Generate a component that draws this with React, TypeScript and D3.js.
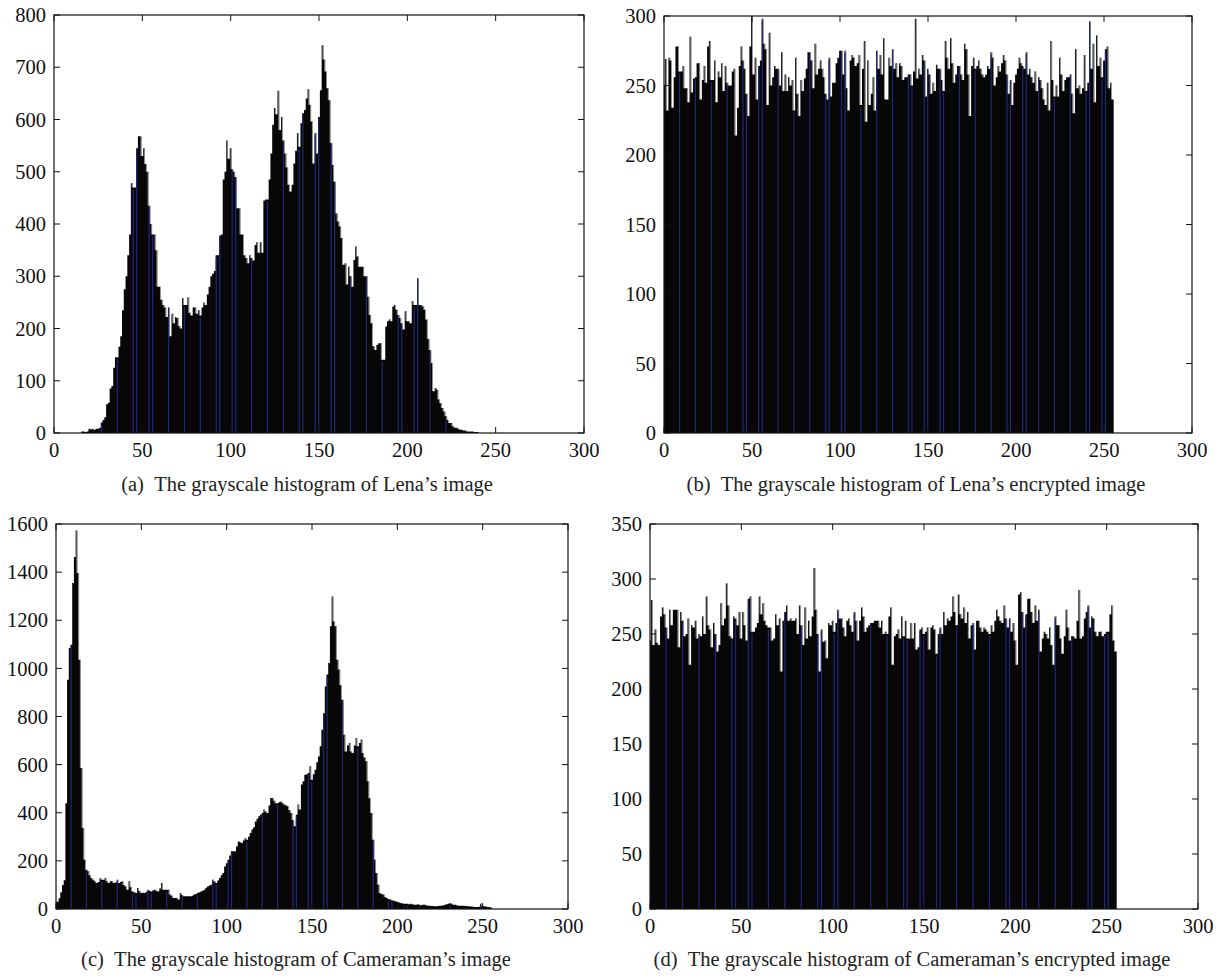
import React from 'react';
import * as d3 from 'd3';

// grey levels 0..255 (one bar each)
const LEVELS = d3.range(256);
const X_TICKS = [0, 50, 100, 150, 200, 250, 300];

// (a) Lena, plain image
const lenaCounts = [
  0, 0, 0, 0, 0, 0, 0, 0, 0, 0, 0, 0, 0, 0, 0, 0,
  3, 3, 2, 3, 8, 7, 8, 6, 8, 8, 10, 20, 25, 30, 55, 58,
  85, 90, 125, 145, 145, 165, 185, 235, 275, 300, 340, 380, 478, 470, 470, 545,
  568, 568, 530, 545, 515, 500, 435, 400, 380, 380, 350, 280, 280, 255, 245, 240,
  222, 240, 185, 228, 210, 222, 220, 205, 200, 258, 245, 245, 260, 230, 225, 240,
  240, 228, 235, 225, 240, 250, 245, 265, 280, 300, 305, 310, 340, 340, 378, 380,
  485, 500, 560, 525, 545, 505, 500, 490, 430, 430, 380, 380, 340, 335, 325, 340,
  335, 330, 360, 365, 345, 365, 345, 445, 447, 447, 485, 535, 590, 622, 610, 655,
  580, 605, 560, 535, 508, 475, 462, 475, 516, 540, 574, 548, 593, 612, 618, 640,
  658, 628, 596, 516, 574, 535, 605, 656, 742, 715, 692, 660, 637, 555, 513, 481,
  420, 405, 395, 373, 322, 325, 284, 318, 300, 280, 331, 357, 338, 318, 318, 318,
  300, 300, 261, 226, 210, 166, 159, 169, 172, 172, 140, 140, 204, 214, 217, 214,
  242, 245, 236, 226, 220, 210, 198, 233, 214, 214, 210, 252, 245, 245, 296, 245,
  245, 242, 236, 217, 180, 159, 134, 80, 86, 83, 64, 57, 48, 41, 32, 25,
  19, 19, 13, 10, 10, 8, 6, 6, 5, 5, 3, 3, 3, 3, 2, 2,
  2, 0, 0, 0, 0, 0, 0, 0, 0, 0, 0, 0, 0, 0, 0, 0,
];

// (b) Lena, encrypted image
const lenaEncCounts = [
  250, 269, 232, 270, 268, 234, 256, 278, 278, 260, 260, 264, 248, 248, 238, 285,
  245, 255, 256, 266, 266, 240, 254, 264, 252, 278, 282, 254, 254, 268, 238, 260,
  256, 266, 246, 264, 252, 250, 250, 260, 262, 214, 234, 264, 278, 268, 262, 244,
  228, 278, 300, 258, 270, 240, 264, 268, 298, 280, 276, 236, 288, 250, 256, 264,
  262, 262, 250, 274, 246, 258, 246, 256, 250, 254, 232, 270, 244, 228, 254, 246,
  255, 262, 274, 274, 268, 248, 280, 258, 262, 268, 262, 256, 244, 240, 270, 242,
  252, 252, 266, 270, 275, 275, 258, 275, 248, 232, 268, 272, 270, 264, 266, 272,
  236, 262, 282, 224, 268, 236, 244, 256, 232, 275, 262, 272, 258, 284, 240, 240,
  270, 264, 276, 262, 266, 256, 266, 264, 254, 256, 256, 258, 258, 250, 260, 298,
  255, 262, 258, 272, 268, 242, 262, 258, 244, 252, 246, 265, 262, 262, 254, 246,
  282, 270, 262, 284, 266, 252, 258, 264, 264, 258, 254, 280, 276, 258, 228, 264,
  270, 262, 264, 268, 262, 258, 256, 258, 264, 262, 274, 270, 250, 256, 264, 260,
  266, 272, 268, 258, 244, 254, 236, 252, 258, 262, 270, 266, 264, 262, 274, 258,
  262, 256, 252, 260, 246, 256, 254, 248, 240, 236, 252, 232, 282, 254, 242, 250,
  242, 270, 258, 246, 254, 256, 256, 258, 244, 230, 276, 248, 250, 244, 248, 272,
  246, 252, 296, 262, 280, 238, 286, 264, 270, 256, 268, 276, 278, 248, 252, 240,
];

// (c) Cameraman, plain image
const cameraCounts = [
  30, 30, 45, 70, 100, 120, 440, 953, 1085, 1098, 1355, 1463, 1573, 1396, 1036, 586,
  337, 205, 163, 157, 140, 129, 122, 115, 108, 112, 129, 122, 122, 129, 115, 108,
  115, 115, 108, 110, 122, 108, 112, 115, 100, 94, 80, 115, 90, 73, 70, 66,
  87, 75, 66, 68, 66, 72, 80, 76, 73, 78, 80, 76, 73, 85, 108, 80,
  80, 80, 80, 60, 55, 46, 46, 46, 40, 66, 58, 53, 53, 53, 53, 53,
  55, 60, 62, 66, 70, 73, 76, 80, 88, 94, 98, 101, 122, 115, 108, 118,
  129, 140, 150, 177, 190, 205, 222, 240, 240, 240, 260, 281, 278, 274, 285, 295,
  288, 300, 316, 330, 340, 364, 375, 385, 392, 399, 413, 405, 399, 430, 461, 461,
  450, 440, 440, 445, 447, 440, 434, 430, 427, 410, 399, 370, 344, 392, 434, 413,
  517, 531, 558, 560, 565, 593, 537, 560, 579, 610, 634, 676, 745, 814, 925, 975,
  1022, 1175, 1299, 1195, 1175, 1036, 995, 930, 870, 724, 655, 680, 690, 655, 648, 680,
  711, 676, 690, 704, 648, 630, 614, 531, 460, 399, 288, 205, 150, 101, 66, 62,
  60, 50, 46, 42, 40, 36, 34, 32, 30, 28, 25, 24, 22, 22, 22, 20,
  22, 20, 18, 18, 20, 18, 16, 18, 18, 16, 14, 14, 12, 12, 11, 11,
  12, 13, 14, 16, 18, 20, 22, 25, 22, 18, 18, 16, 14, 14, 14, 14,
  12, 12, 11, 10, 10, 8, 8, 8, 9, 22, 12, 11, 10, 8, 8, 6,
];

// (d) Cameraman, encrypted image
const cameraEncCounts = [
  244, 281, 240, 254, 242, 240, 266, 274, 268, 256, 246, 272, 258, 272, 272, 272,
  238, 270, 262, 248, 250, 264, 222, 258, 256, 262, 246, 250, 248, 266, 250, 284,
  258, 254, 238, 260, 250, 234, 240, 278, 258, 264, 296, 276, 248, 246, 266, 264,
  258, 270, 246, 270, 258, 244, 282, 284, 252, 252, 256, 260, 284, 268, 278, 262,
  258, 256, 256, 244, 246, 268, 258, 264, 216, 262, 270, 276, 262, 264, 262, 262,
  264, 250, 276, 258, 240, 274, 246, 262, 248, 266, 310, 272, 250, 216, 254, 243,
  244, 228, 260, 258, 262, 252, 260, 272, 264, 264, 256, 248, 262, 264, 258, 252,
  270, 262, 244, 262, 274, 266, 252, 256, 258, 260, 260, 262, 262, 262, 256, 262,
  250, 252, 250, 266, 274, 222, 248, 250, 254, 246, 266, 248, 262, 246, 246, 260,
  246, 260, 236, 238, 254, 256, 250, 252, 256, 236, 256, 258, 254, 232, 250, 256,
  250, 270, 258, 264, 262, 266, 284, 270, 258, 286, 268, 264, 274, 260, 270, 246,
  258, 260, 236, 262, 262, 256, 252, 256, 254, 252, 250, 258, 252, 262, 272, 266,
  262, 260, 276, 264, 256, 264, 252, 260, 244, 222, 286, 288, 270, 256, 268, 282,
  282, 270, 260, 276, 262, 272, 234, 246, 252, 250, 246, 256, 240, 222, 266, 258,
  258, 246, 232, 248, 272, 256, 244, 248, 248, 246, 262, 290, 246, 248, 264, 270,
  276, 256, 266, 264, 252, 248, 252, 252, 248, 250, 252, 252, 268, 276, 244, 234,
];

const lenaYTicks = [0, 100, 200, 300, 400, 500, 600, 700, 800];
const lenaEncYTicks = [0, 50, 100, 150, 200, 250, 300];
const cameraYTicks = [0, 200, 400, 600, 800, 1000, 1200, 1400, 1600];
const cameraEncYTicks = [0, 50, 100, 150, 200, 250, 300, 350];

const captions = [
  '(a)\u2002The grayscale histogram of Lena\u2019s image',
  '(b)\u2002The grayscale histogram of Lena\u2019s encrypted image',
  '(c)\u2002The grayscale histogram of Cameraman\u2019s image',
  '(d)\u2002The grayscale histogram of Cameraman\u2019s encrypted image',
];

// bins whose left edge shows the dark blue bar outline
const stripeBins = [0, 9, 18, 27, 36, 45, 47, 54, 56, 65, 74, 83, 92, 94, 101, 103, 112, 121, 130, 139, 141,
  148, 150, 157, 159, 168, 177, 186, 195, 197, 204, 206, 213, 222, 231, 240, 242, 249, 251];

const FONT = '"Liberation Serif", "Times New Roman", serif';

type Box = { left: number; right: number; top: number; bottom: number };

function Histogram({ id, counts, yTicks, box, caption, capX, capY }: {
  id: string; counts: number[]; yTicks: number[]; box: Box; caption: string; capX: number; capY: number;
}) {
  const x = d3.scaleLinear().domain([0, 300]).range([box.left, box.right]);
  const y = d3.scaleLinear().domain([0, yTicks[yTicks.length - 1]]).range([box.bottom, box.top]);
  const tick = 6;

  const pts = LEVELS.map((k) => ({ x: k - 0.5, v: counts[k] }));
  pts.push({ x: 255.5, v: counts[255] });
  const area = d3.area<{ x: number; v: number }>()
    .curve(d3.curveStepAfter)
    .x((d) => x(d.x))
    .y0(y(0))
    .y1((d) => y(d.v));

  // light right edge where a bar sticks up above its right neighbour
  const edges = LEVELS.slice(0, 255).filter((k) => counts[k] > counts[k + 1]);

  return (
    <g>
      <defs>
        <clipPath id={id}>
          <rect x={box.left} y={box.top} width={box.right - box.left} height={box.bottom - box.top} />
        </clipPath>
      </defs>
      <g clipPath={`url(#${id})`}>
        <path d={area(pts) || ''} fill="#070707" />
        {edges.map((k) => (
          <line key={'e' + k} x1={x(k + 0.5) - 0.4} x2={x(k + 0.5) - 0.4}
            y1={y(counts[k])} y2={y(counts[k + 1])} stroke="#b8b8b8" strokeWidth={0.8} />
        ))}
        {stripeBins.filter((k) => counts[k] > 0).map((k) => (
          <line key={'s' + k} x1={x(k - 0.5) + 0.6} x2={x(k - 0.5) + 0.6}
            y1={y(0)} y2={y(counts[k]) + 2} stroke="#25257a" strokeWidth={1.2} />
        ))}
      </g>
      <rect x={box.left} y={box.top} width={box.right - box.left} height={box.bottom - box.top}
        fill="none" stroke="#111" strokeWidth={1.2} />
      {X_TICKS.map((t) => (
        <g key={'x' + t}>
          <line x1={x(t)} x2={x(t)} y1={box.bottom} y2={box.bottom - tick} stroke="#111" />
          <line x1={x(t)} x2={x(t)} y1={box.top} y2={box.top + tick} stroke="#111" />
          <text x={x(t)} y={box.bottom + 17} dy="0.35em" textAnchor="middle"
            fontFamily={FONT} fontSize={20.5} fill="#111">{t}</text>
        </g>
      ))}
      {yTicks.map((t) => (
        <g key={'y' + t}>
          <line x1={box.left} x2={box.left + tick} y1={y(t)} y2={y(t)} stroke="#111" />
          <line x1={box.right} x2={box.right - tick} y1={y(t)} y2={y(t)} stroke="#111" />
          <text x={box.left - 8} y={y(t)} dy="0.35em" textAnchor="end"
            fontFamily={FONT} fontSize={20.5} fill="#111">{t}</text>
        </g>
      ))}
      <text x={capX} y={capY} textAnchor="middle" fontFamily={FONT} fontSize={20.5} fill="#222">
        {caption}
      </text>
    </g>
  );
}

export default function App() {
  return (
    <svg width={1222} height={979} style={{ position: 'absolute', left: 0, top: 0, background: '#fff' }}>
      <rect width={1222} height={979} fill="#fff" />
      <Histogram id="ca" counts={lenaCounts} yTicks={lenaYTicks}
        box={{ left: 54, right: 584, top: 15, bottom: 433 }} caption={captions[0]} capX={307} capY={491} />
      <Histogram id="cb" counts={lenaEncCounts} yTicks={lenaEncYTicks}
        box={{ left: 664, right: 1192, top: 16, bottom: 433 }} caption={captions[1]} capX={916} capY={491} />
      <Histogram id="cc" counts={cameraCounts} yTicks={cameraYTicks}
        box={{ left: 56, right: 568, top: 524, bottom: 909 }} caption={captions[2]} capX={296} capY={966} />
      <Histogram id="cd" counts={cameraEncCounts} yTicks={cameraEncYTicks}
        box={{ left: 650, right: 1198, top: 524, bottom: 909 }} caption={captions[3]} capX={912} capY={966} />
    </svg>
  );
}
